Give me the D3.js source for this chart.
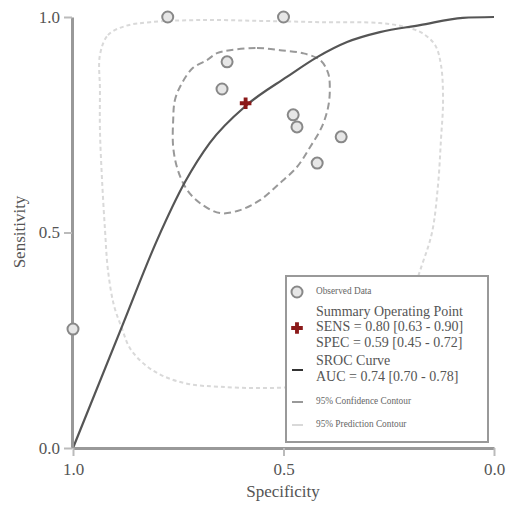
<!DOCTYPE html>
<html>
<head>
<meta charset="utf-8">
<script src="https://cdn.jsdelivr.net/npm/d3@7"></script>
<style>
  body { margin: 0; background: #fff; }
  text { font-family: "Liberation Serif", "Times New Roman", serif; }
</style>
</head>
<body>
<div id="chart"></div>
<script>
// observed studies
var studySpec = [0.775, 0.50, 0.634, 0.646, 0.477, 0.468, 0.363, 0.420, 1.00];
var studySens = [1.00, 1.00, 0.896, 0.833, 0.773, 0.745, 0.722, 0.661, 0.276];

// summary operating point
var summarySpec = [0.59];
var summarySens = [0.80];

// SROC curve
var srocSpec = [1.000, 0.884, 0.800, 0.734, 0.675, 0.587, 0.492, 0.420, 0.349, 0.271, 0.176, 0.074, 0.000];
var srocSens = [0.000, 0.281, 0.483, 0.617, 0.708, 0.796, 0.861, 0.907, 0.942, 0.965, 0.981, 0.998, 1.000];

// 95% confidence contour
var confSpec = [0.627, 0.563, 0.508, 0.454, 0.413, 0.394, 0.390, 0.394, 0.409, 0.437, 0.468, 0.508, 0.556, 0.603, 0.651, 0.698, 0.729, 0.751, 0.762, 0.762, 0.758, 0.741, 0.715, 0.682, 0.658];
var confSens = [0.923, 0.928, 0.923, 0.916, 0.900, 0.870, 0.831, 0.791, 0.745, 0.698, 0.652, 0.615, 0.575, 0.552, 0.545, 0.568, 0.599, 0.645, 0.698, 0.761, 0.807, 0.847, 0.882, 0.900, 0.916];

// 95% prediction contour
var predSpec = [0.936, 0.917, 0.876, 0.817, 0.698, 0.556, 0.413, 0.271, 0.211, 0.171, 0.140, 0.126, 0.121, 0.126, 0.133, 0.147, 0.171, 0.211, 0.271, 0.366, 0.461, 0.556, 0.651, 0.722, 0.781, 0.829, 0.865, 0.884, 0.903, 0.917, 0.924, 0.931, 0.936, 0.936];
var predSens = [0.912, 0.958, 0.979, 0.988, 0.993, 0.991, 0.988, 0.986, 0.977, 0.963, 0.935, 0.889, 0.807, 0.715, 0.610, 0.501, 0.425, 0.320, 0.227, 0.169, 0.144, 0.139, 0.142, 0.148, 0.165, 0.193, 0.232, 0.278, 0.332, 0.413, 0.506, 0.622, 0.738, 0.831];

var tickVals = [0, 0.5, 1];
var legendBig = ["Summary Operating Point", "SENS = 0.80 [0.63 - 0.90]", "SPEC = 0.59 [0.45 - 0.72]", "SROC Curve", "AUC = 0.74 [0.70 - 0.78]"];
var legendSmall = ["Observed Data", "95% Confidence Contour", "95% Prediction Contour"];

var W = 511, H = 505;
var svg = d3.select("#chart").append("svg")
    .attr("width", W)
    .attr("height", H);

var x = d3.scaleLinear().domain([1, 0]).range([73, 494]);
var y = d3.scaleLinear().domain([0, 1]).range([448, 17]);

function pts(sx, sy) {
  return sx.map(function(d, i) { return [x(d), y(sy[i])]; });
}

// prediction contour
svg.append("path")
    .datum(pts(predSpec, predSens))
    .attr("d", d3.line().curve(d3.curveCatmullRomClosed))
    .attr("fill", "none")
    .attr("stroke", "#d9d9d9")
    .attr("stroke-width", 2)
    .attr("stroke-dasharray", "4,3");

// confidence contour
svg.append("path")
    .datum(pts(confSpec, confSens))
    .attr("d", d3.line().curve(d3.curveCatmullRomClosed))
    .attr("fill", "none")
    .attr("stroke", "#999")
    .attr("stroke-width", 2)
    .attr("stroke-dasharray", "7,4");

// SROC curve
svg.append("path")
    .datum(pts(srocSpec, srocSens))
    .attr("d", d3.line().curve(d3.curveMonotoneX))
    .attr("fill", "none")
    .attr("stroke", "#555")
    .attr("stroke-width", 2.2);

// axes
var yAxis = svg.append("g")
    .attr("transform", "translate(72,0)")
    .call(d3.axisLeft(y).tickValues(tickVals).tickFormat(d3.format(".1f")).tickSize(8).tickSizeOuter(0).tickPadding(4));
var xAxis = svg.append("g")
    .attr("transform", "translate(0,448)")
    .call(d3.axisBottom(x).tickValues(tickVals).tickFormat(d3.format(".1f")).tickSize(8).tickSizeOuter(0).tickPadding(7));
[yAxis, xAxis].forEach(function(a) {
  a.select(".domain").attr("stroke", "#999").attr("stroke-width", 3);
  a.selectAll(".tick line").attr("stroke", "#bbb").attr("stroke-width", 2);
  a.selectAll(".tick text")
      .style("font-family", "Liberation Serif, serif")
      .style("font-size", "17px")
      .attr("fill", "#555");
});

// observed studies
svg.append("g").selectAll("circle")
    .data(studySpec)
    .join("circle")
    .attr("cx", function(d) { return x(d); })
    .attr("cy", function(d, i) { return y(studySens[i]); })
    .attr("r", 5.5)
    .attr("fill", "#e6e6e6")
    .attr("stroke", "#888")
    .attr("stroke-width", 2);

// summary point
svg.append("g").selectAll("path")
    .data(summarySpec)
    .join("path")
    .attr("transform", function(d, i) { return "translate(" + x(d) + "," + y(summarySens[i]) + ")"; })
    .attr("d", d3.symbol().type(d3.symbolCross).size(75))
    .attr("fill", "#8b1a1a");

// axis titles
svg.append("text")
    .attr("transform", "translate(21,232) rotate(-90)")
    .attr("text-anchor", "middle")
    .attr("dominant-baseline", "middle")
    .attr("fill", "#555")
    .style("font-size", "17px")
    .text("Sensitivity");
svg.append("text")
    .attr("x", 283)
    .attr("y", 497)
    .attr("text-anchor", "middle")
    .attr("fill", "#555")
    .style("font-size", "17px")
    .text("Specificity");

// legend
var lg = svg.append("g");
lg.append("rect")
    .attr("x", 286).attr("y", 276)
    .attr("width", 202).attr("height", 166)
    .attr("fill", "#fff")
    .attr("stroke", "#999")
    .attr("stroke-width", 2);

lg.append("circle")
    .attr("cx", 297).attr("cy", 292).attr("r", 5.5)
    .attr("fill", "#e6e6e6").attr("stroke", "#888").attr("stroke-width", 2);
lg.append("path")
    .attr("transform", "translate(297,328)")
    .attr("d", d3.symbol().type(d3.symbolCross).size(75))
    .attr("fill", "#8b1a1a");
lg.append("line").attr("x1", 292).attr("x2", 303).attr("y1", 370).attr("y2", 370)
    .attr("stroke", "#333").attr("stroke-width", 2);
lg.append("line").attr("x1", 292).attr("x2", 303).attr("y1", 402).attr("y2", 402)
    .attr("stroke", "#999").attr("stroke-width", 2);
lg.append("line").attr("x1", 292).attr("x2", 303).attr("y1", 425).attr("y2", 425)
    .attr("stroke", "#d9d9d9").attr("stroke-width", 2);

var bigY = [312.5, 328, 343.5, 362, 378];
lg.selectAll("text.big")
    .data(legendBig)
    .join("text")
    .attr("class", "big")
    .attr("x", 316)
    .attr("y", function(d, i) { return bigY[i]; })
    .attr("dominant-baseline", "middle")
    .attr("fill", "#555")
    .style("font-size", "14px")
    .text(function(d) { return d; });

var smallY = [292, 402, 425];
lg.selectAll("text.small")
    .data(legendSmall)
    .join("text")
    .attr("class", "small")
    .attr("x", 316)
    .attr("y", function(d, i) { return smallY[i]; })
    .attr("dominant-baseline", "middle")
    .attr("fill", "#666")
    .style("font-size", "9.3px")
    .text(function(d) { return d; });
</script>
</body>
</html>
